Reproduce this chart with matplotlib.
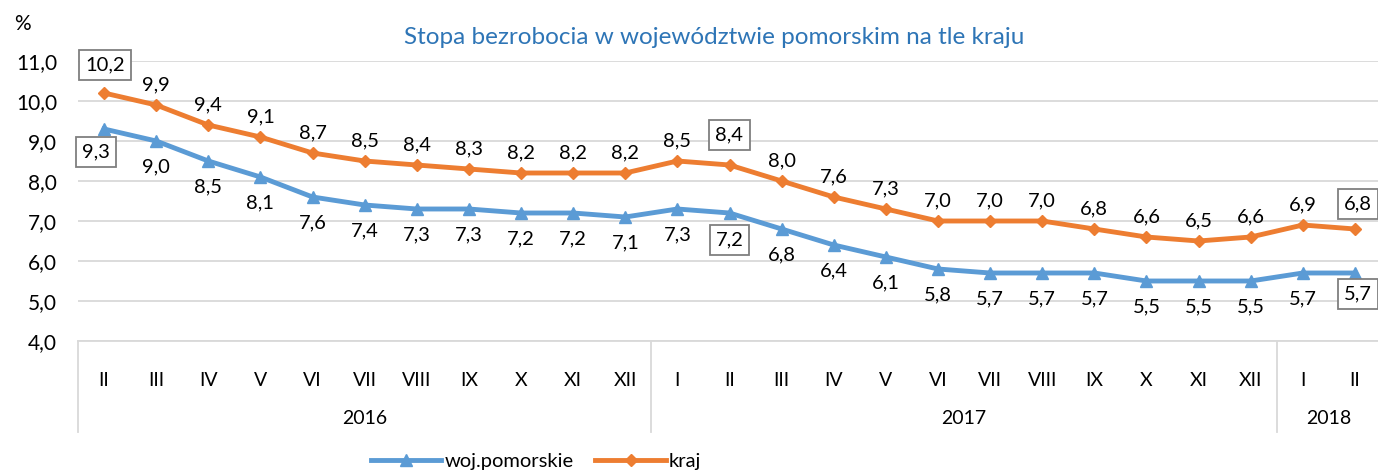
import matplotlib
matplotlib.use("Agg")
import matplotlib.pyplot as plt
import numpy as np
from matplotlib.transforms import blended_transform_factory
from matplotlib.lines import Line2D

months = ["II", "III", "IV", "V", "VI", "VII", "VIII", "IX", "X", "XI", "XII",
          "I", "II", "III", "IV", "V", "VI", "VII", "VIII", "IX", "X", "XI", "XII",
          "I", "II"]
years = ["2016", "2017", "2018"]
year_counts = [11, 12, 2]
pomorskie = [9.3, 9.0, 8.5, 8.1, 7.6, 7.4, 7.3, 7.3, 7.2, 7.2, 7.1,
             7.3, 7.2, 6.8, 6.4, 6.1, 5.8, 5.7, 5.7, 5.7, 5.5, 5.5, 5.5,
             5.7, 5.7]
kraj = [10.2, 9.9, 9.4, 9.1, 8.7, 8.5, 8.4, 8.3, 8.2, 8.2, 8.2,
        8.5, 8.4, 8.0, 7.6, 7.3, 7.0, 7.0, 7.0, 6.8, 6.6, 6.5, 6.6,
        6.9, 6.8]
boxed = [0, 12, 24]

FONT = "Lato"
plt.rcParams['font.family'] = [FONT, 'DejaVu Sans']

W, H = 1378, 471
fig = plt.figure(figsize=(W / 100, H / 100), dpi=100)
left, right = 78, 1381
top, bottom = 61, 341
ax = fig.add_axes([left / W, 1 - bottom / H, (right - left) / W, (bottom - top) / H])

BLUE = "#5B9BD5"
ORANGE = "#ED7D31"
GRID = "#D9D9D9"
LBL = 14.5

x = np.arange(len(months))
ax.set_xlim(-0.5, len(months) - 0.5)
ax.set_ylim(4, 11)
yt = np.arange(4, 11.01, 1.0)
ax.set_yticks(yt)
ax.set_yticklabels([f"{v:.1f}".replace(".", ",") for v in yt], fontsize=15)
ax.yaxis.grid(True, color=GRID, linewidth=1.3)
ax.set_axisbelow(True)
for s in ["left", "right", "top"]:
    ax.spines[s].set_visible(False)
ax.spines["bottom"].set_color(GRID)
ax.spines["bottom"].set_linewidth(1.3)
ax.tick_params(axis="y", length=0, pad=15)
ax.set_xticks(x)
ax.set_xticklabels(months, fontsize=14, va="center")
ax.tick_params(axis="x", length=0, pad=40 * 0.72)

ax.plot(x, pomorskie, color=BLUE, lw=3.5, marker="^", markersize=9, label="woj.pomorskie", zorder=3)
ax.plot(x, kraj, color=ORANGE, lw=3.5, marker="D", markersize=6.5, label="kraj", zorder=3)

def fmt(v):
    return f"{v:.1f}".replace(".", ",")

box_style = dict(boxstyle="square,pad=0.3", fc="white", ec="#7F7F7F", lw=1.3)
for i, (p, k) in enumerate(zip(pomorskie, kraj)):
    if i in boxed:
        kdx, kdy = (1, 28) if i == 0 else ((0, 30) if i == 12 else (3, 25))
        pdx, pdy = (-8, -23) if i == 0 else ((0, -27) if i == 12 else (3, -21))
        ax.annotate(fmt(k), (i, k), xytext=(kdx * 0.72, kdy * 0.72), textcoords="offset points",
                    ha="center", va="center", fontsize=LBL, bbox=box_style, annotation_clip=False)
        ax.annotate(fmt(p), (i, p), xytext=(pdx * 0.72, pdy * 0.72), textcoords="offset points",
                    ha="center", va="center", fontsize=LBL, bbox=box_style, annotation_clip=False)
    else:
        ax.annotate(fmt(k), (i, k), xytext=(0, 20 * 0.72), textcoords="offset points",
                    ha="center", va="center", fontsize=LBL)
        ax.annotate(fmt(p), (i, p), xytext=(0, -26 * 0.72), textcoords="offset points",
                    ha="center", va="center", fontsize=LBL)

# year groups
trans = blended_transform_factory(ax.transData, ax.transAxes)
ax_h = bottom - top
start = -0.5
bounds = [start]
for name, cnt in zip(years, year_counts):
    end = start + cnt
    ax.text((start + end) / 2, -(418 - bottom) / ax_h, name, transform=trans,
            ha="center", va="center", fontsize=14)
    bounds.append(end)
    start = end
for b in bounds:
    ax.add_line(Line2D([b, b], [0, -(432 - bottom) / ax_h], transform=trans,
                       color=GRID, lw=1.3, clip_on=False))

fig.text(22 / W, 1 - 24 / H, "%", fontsize=15, ha="center", va="center")
fig.text(714 / W, 1 - 37 / H, "Stopa bezrobocia w województwie pomorskim na tle kraju",
         fontsize=17.5, color="#2E75B6", ha="center", va="center")

fig.legend(loc="center", bbox_to_anchor=(536 / W, 1 - 461 / H), ncol=2, frameon=False,
           fontsize=14.5, handlelength=3.5, columnspacing=1.1, handletextpad=0.15,
           borderaxespad=0, borderpad=0)

fig.savefig("out.png", dpi=100)
